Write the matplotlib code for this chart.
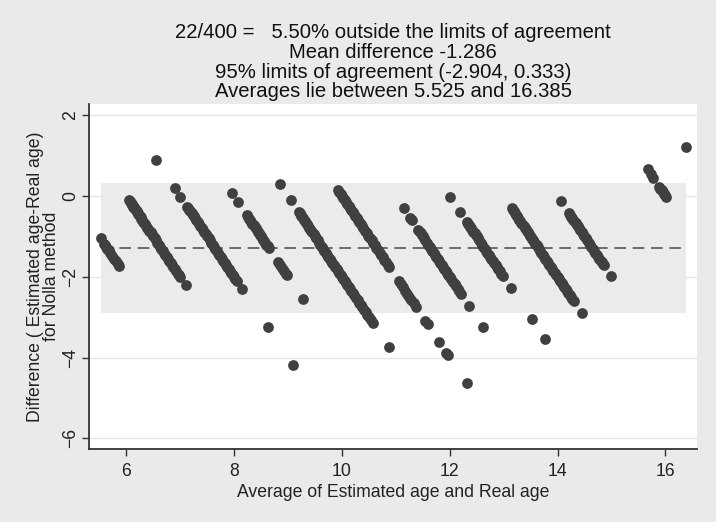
import numpy as np
import matplotlib
matplotlib.use("Agg")
import matplotlib.pyplot as plt

plt.rcParams["font.family"] = ["Liberation Sans", "DejaVu Sans"]

# Real ages grouped by the age estimated with the Nolla method
real_5 = [6.05, 6.18, 6.22, 6.26, 6.30, 6.34, 6.40, 6.48, 6.55, 6.62, 6.68, 6.73]
real_6 = [6.10, 6.13, 6.16, 6.18, 6.20, 6.22, 6.24, 6.26, 6.28, 6.30, 6.32, 6.35,
          6.38, 6.40, 6.42, 6.45, 6.48, 6.50, 6.53, 6.56, 6.60, 6.63, 6.66, 6.70,
          6.74, 6.78, 6.82, 6.86, 6.90, 6.95, 7.00, 7.05, 7.10, 7.15, 7.20, 7.25,
          7.30, 7.35, 7.40, 7.45, 7.50, 7.55, 7.60, 7.65, 7.70, 7.75, 7.80, 7.86,
          7.92, 7.96, 8.00, 8.20]
real_7 = [6.11, 6.79, 7.01, 7.26, 7.30, 7.34, 7.38, 7.42, 7.46, 7.50, 7.55, 7.60,
          7.65, 7.70, 7.75, 7.80, 7.85, 7.90, 7.95, 8.00, 8.05, 8.10, 8.15, 8.20,
          8.25, 8.30, 8.35, 8.40, 8.45, 8.50, 8.55, 8.60, 8.65, 8.70, 8.75, 8.80,
          8.85, 8.90, 8.95, 9.00, 9.05, 9.10, 9.29, 10.24, 11.19]
real_8 = [7.93, 8.14, 8.47, 8.52, 8.56, 8.60, 8.64, 8.68, 8.72, 8.76, 8.80, 8.84,
          8.88, 8.92, 8.96, 9.00, 9.04, 9.08, 9.12, 9.16, 9.20, 9.24, 9.29, 9.63,
          9.70, 9.78, 9.85, 9.92, 9.96, 10.56]
real_9 = [8.70, 9.10, 9.39, 9.43, 9.47, 9.50, 9.54, 9.58, 9.62, 9.66, 9.70, 9.74,
          9.78, 9.82, 9.86, 9.90, 9.95, 10.00, 10.05, 10.10, 10.15, 10.20, 10.25,
          10.30, 10.35, 10.40, 10.45, 10.50, 10.55, 10.60, 10.65, 10.70, 10.75,
          10.80, 10.85, 10.90, 10.95, 11.00, 11.05, 11.10, 11.15, 11.20, 11.25,
          11.30, 11.35, 11.40, 11.46, 11.52, 11.58, 11.64, 11.70, 11.76, 11.82,
          11.88, 11.94, 11.99, 12.08, 12.15, 12.73]
real_10 = [9.85, 9.90, 9.95, 10.00, 10.05, 10.10, 10.15, 10.20, 10.25, 10.30,
           10.35, 10.40, 10.45, 10.50, 10.55, 10.60, 10.65, 10.70, 10.75, 10.80,
           10.86, 10.92, 10.98, 11.04, 11.10, 11.16, 11.22, 11.28, 11.34, 11.40,
           11.46, 11.52, 11.58, 11.64, 11.70, 11.75, 12.10, 12.18, 12.26, 12.34,
           12.42, 12.50, 12.58, 12.66, 12.75, 13.10, 13.18, 13.61, 13.88, 13.95,
           14.64]
real_11 = [11.30, 11.54, 11.60, 11.84, 11.88, 11.92, 11.96, 12.00, 12.05, 12.10,
           12.15, 12.20, 12.25, 12.30, 12.35, 12.40, 12.45, 12.50, 12.55, 12.60,
           12.65, 12.70, 12.75, 12.80, 12.85, 12.90, 12.95, 13.00, 13.06, 13.12,
           13.18, 13.24, 13.30, 13.36, 13.42, 13.72, 14.24]
real_12 = [12.01, 12.39, 12.64, 12.68, 12.72, 12.76, 12.80, 12.84, 12.88, 12.92,
           12.96, 13.00, 13.05, 13.10, 13.15, 13.20, 13.25, 13.30, 13.35, 13.40,
           13.45, 13.50, 13.55, 13.60, 13.65, 13.70, 13.75, 13.80, 13.86, 13.92,
           13.98, 14.27, 15.05, 15.54]
real_13 = [13.30, 13.34, 13.38, 13.42, 13.46, 13.50, 13.54, 13.58, 13.62, 13.66,
           13.70, 13.74, 13.78, 13.82, 13.86, 13.90, 13.94, 13.98, 14.02, 14.06,
           14.10, 14.14, 14.18, 14.22, 14.26, 14.30, 14.35, 14.40, 14.45, 14.50,
           14.55, 14.60, 14.65, 14.70, 14.75, 14.80, 14.85, 14.90, 14.95, 15.00,
           15.05, 15.10, 15.15, 15.20, 15.25, 15.30, 15.35, 15.40, 15.45, 15.50,
           15.55, 15.60, 15.90]
real_14 = [14.13, 14.43, 14.47, 14.51, 14.55, 14.59, 14.63, 14.67, 14.71, 14.75,
           14.80, 14.85, 14.90, 14.95, 15.00, 15.05, 15.10, 15.15, 15.20, 15.25,
           15.30, 15.35, 15.40, 15.45, 15.50, 15.55, 15.60, 15.64, 15.68, 15.71,
           15.99]
real_16 = [15.34, 15.45, 15.56, 15.78, 15.82, 15.86, 15.90, 15.94, 15.98, 16.01]
real_17 = [15.78]

groups = [(5, real_5), (6, real_6), (7, real_7), (8, real_8), (9, real_9),
          (10, real_10), (11, real_11), (12, real_12), (13, real_13),
          (14, real_14), (16, real_16), (17, real_17)]

est = np.concatenate([[e] * len(r) for e, r in groups]).astype(float)
real = np.concatenate([r for e, r in groups])

avg = (est + real) / 2
diff = est - real

# summary values shown in the title
mean_diff = -1.286
lo_lim, hi_lim = -2.904, 0.333
avg_min, avg_max = 5.525, 16.385

title_lines = ["22/400 =   5.50% outside the limits of agreement",
               "Mean difference -1.286",
               "95% limits of agreement (-2.904, 0.333)",
               "Averages lie between 5.525 and 16.385"]

fig = plt.figure(figsize=(7.16, 5.22), dpi=100, facecolor="#eaeaea")
ax = fig.add_axes([0.1243, 0.1398, 0.8492, 0.661])
ax.set_facecolor("white")

ax.set_xlim(5.308, 16.588)
ax.set_ylim(-6.268, 2.283)

yt = [2, 0, -2, -4, -6]
for y in yt:
    ax.axhline(y, color="#e6e6e6", lw=1, zorder=0)

ax.fill_between([avg_min, avg_max], lo_lim, hi_lim, color="#ebebeb", lw=0, zorder=1)
ax.plot([avg_min, avg_max], [mean_diff, mean_diff], color="#555555", lw=1.2,
        dashes=(7, 4), zorder=2)

ax.scatter(avg, diff, s=60, color="#404040", lw=0, zorder=3)

ax.set_xticks([6, 8, 10, 12, 14, 16])
ax.set_yticks(yt)
ax.tick_params(axis="both", labelsize=12.7, length=5, width=1, color="#333333",
               labelcolor="#222222")
ax.tick_params(axis="x", pad=5)
ax.tick_params(axis="y", pad=2)
for lab in ax.get_yticklabels():
    lab.set_rotation(90)
    lab.set_va("center")

for s in ["top", "right"]:
    ax.spines[s].set_visible(False)
for s in ["left", "bottom"]:
    ax.spines[s].set_color("#333333")
    ax.spines[s].set_linewidth(1.3)

ax.set_xlabel("Average of Estimated age and Real age", fontsize=12.7,
              color="#222222", labelpad=3)
ax.set_ylabel("Difference ( Estimated age-Real age)\nfor Nolla method",
              fontsize=12.7, color="#222222", labelpad=1.5, linespacing=0.95)

for i, line in enumerate(title_lines):
    fig.text(0.549, 1 - (32 + 20 * i) / 522, line, ha="center", va="center",
             fontsize=14.6, color="#111111")

fig.savefig("out.png", dpi=100, facecolor=fig.get_facecolor())
